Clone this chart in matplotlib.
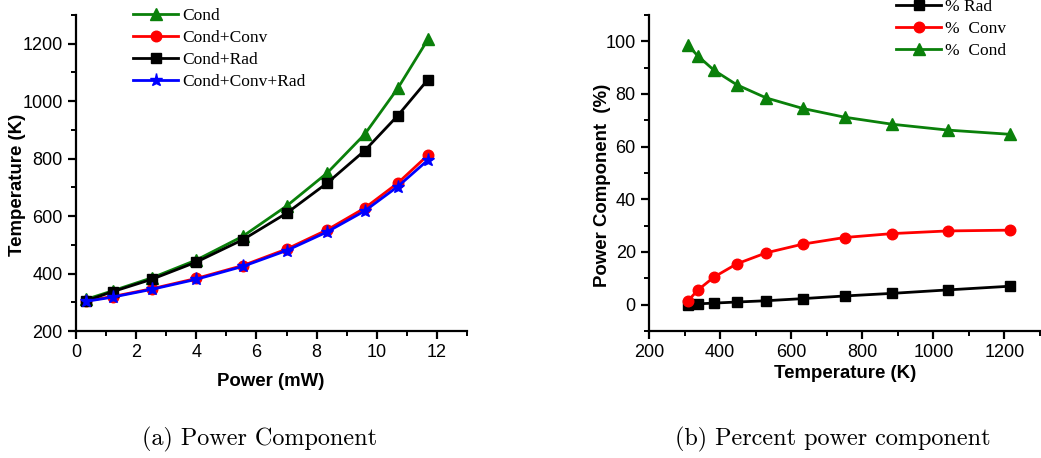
import matplotlib
matplotlib.use("Agg")
import matplotlib.pyplot as plt
from matplotlib.ticker import MultipleLocator

W, H = 1041, 458

# Left panel data
power = [0.33, 1.22, 2.52, 4.0, 5.55, 7.0, 8.35, 9.6, 10.7, 11.7]
t_cond = [310, 340, 385, 447, 530, 635, 750, 885, 1045, 1215]
t_cond_conv = [305, 320, 347, 383, 428, 485, 552, 628, 715, 812]
t_cond_rad = [305, 337, 380, 440, 518, 610, 715, 828, 950, 1075]
t_all = [303, 318, 345, 380, 425, 480, 545, 618, 703, 795]

# Right panel data
temp = [310, 337, 383, 447, 530, 633, 750, 885, 1040, 1215]
pct_rad = [0.0, 0.3, 0.6, 1.0, 1.5, 2.3, 3.3, 4.3, 5.6, 7.0]
pct_conv = [1.5, 5.5, 10.5, 15.5, 19.7, 23.0, 25.5, 27.0, 28.0, 28.3]
pct_cond = [98.5, 94.5, 89.0, 83.5, 78.5, 74.5, 71.2, 68.5, 66.3, 64.7]

GREEN = "#0a800a"
RED = "#ff0000"
BLACK = "#000000"
BLUE = "#0000ff"

sans = ["Liberation Sans", "DejaVu Sans"]
serif = ["Liberation Serif", "DejaVu Serif"]

fig = plt.figure(figsize=(W / 100, H / 100), dpi=100)

def px_axes(x0, y0, x1, y1):
    return fig.add_axes([x0 / W, 1 - y1 / H, (x1 - x0) / W, (y1 - y0) / H])

def style(ax):
    for s in ("top", "right"):
        ax.spines[s].set_visible(False)
    for s in ("left", "bottom"):
        ax.spines[s].set_linewidth(1.6)
    ax.tick_params(which="major", direction="out", length=6, width=1.6, labelsize=13)
    ax.tick_params(which="minor", direction="out", length=3.5, width=1.4)
    for lab in ax.get_xticklabels() + ax.get_yticklabels():
        lab.set_fontfamily(sans)

lw = 2.0
mk = dict(s=dict(marker="s", ms=6.8), o=dict(marker="o", ms=7.6),
          t=dict(marker="^", ms=9.2), st=dict(marker="*", ms=9.5))

ax1 = px_axes(76, 15, 467, 331)
ax1.plot(power, t_cond, color=GREEN, lw=lw, label="Cond", **mk["t"])
ax1.plot(power, t_cond_conv, color=RED, lw=lw, label="Cond+Conv", **mk["o"])
ax1.plot(power, t_cond_rad, color=BLACK, lw=lw, label="Cond+Rad", **mk["s"])
ax1.plot(power, t_all, color=BLUE, lw=lw, label="Cond+Conv+Rad", **mk["st"])
ax1.set_xlim(0, 13)
ax1.set_ylim(200, 1300)
ax1.xaxis.set_major_locator(MultipleLocator(2))
ax1.xaxis.set_minor_locator(MultipleLocator(1))
ax1.set_yticks([200, 400, 600, 800, 1000, 1200])
ax1.yaxis.set_minor_locator(MultipleLocator(100))
style(ax1)
ax1.set_xlabel("Power (mW)", fontfamily=sans, fontweight="bold", fontsize=13.4)
ax1.set_ylabel("Temperature (K)", fontfamily=sans, fontweight="bold", fontsize=13.4)
ax1.xaxis.set_label_coords(0.499, -0.133)
ax1.yaxis.set_label_coords(-0.128, 0.462)
ax1.legend(loc="upper left", bbox_to_anchor=(133 / W, 1 - 8 / H), bbox_transform=fig.transFigure,
           frameon=False, prop={"family": serif, "size": 12.5}, handlelength=2.6,
           handletextpad=0.25, labelspacing=0.34, borderpad=0, borderaxespad=0)

ax2 = px_axes(649, 15, 1040, 331)
ax2.plot(temp, pct_rad, color=BLACK, lw=lw, label="% Rad", **mk["s"])
ax2.plot(temp, pct_conv, color=RED, lw=lw, label="%  Conv", **mk["o"])
ax2.plot(temp, pct_cond, color=GREEN, lw=lw, label="%  Cond", **mk["t"])
ax2.set_xlim(200, 1300)
ax2.set_ylim(-10, 110)
ax2.set_xticks([200, 400, 600, 800, 1000, 1200])
ax2.xaxis.set_minor_locator(MultipleLocator(100))
ax2.set_yticks([0, 20, 40, 60, 80, 100])
ax2.yaxis.set_minor_locator(MultipleLocator(10))
style(ax2)
ax2.set_xlabel("Temperature (K)", fontfamily=sans, fontweight="bold", fontsize=13.4)
ax2.set_ylabel("Power Component  (%)", fontfamily=sans, fontweight="bold", fontsize=13.4)
ax2.xaxis.set_label_coords(0.501, -0.108)
ax2.yaxis.set_label_coords(-0.097, 0.462)
ax2.legend(loc="upper left", bbox_to_anchor=(896 / W, 1 + 1 / H), bbox_transform=fig.transFigure,
           frameon=False, prop={"family": serif, "size": 12.5}, handlelength=2.6,
           handletextpad=0.25, labelspacing=0.34, borderpad=0, borderaxespad=0)

cap_font = ["cmr10", "DejaVu Serif"]
fig.text(260 / W, 1 - 439 / H, "(a) Power Component", ha="center", va="center",
         fontfamily=cap_font, fontsize=17.4)
fig.text(833 / W, 1 - 439 / H, "(b) Percent power component", ha="center", va="center",
         fontfamily=cap_font, fontsize=17.4)

fig.savefig("out.png", dpi=100)
